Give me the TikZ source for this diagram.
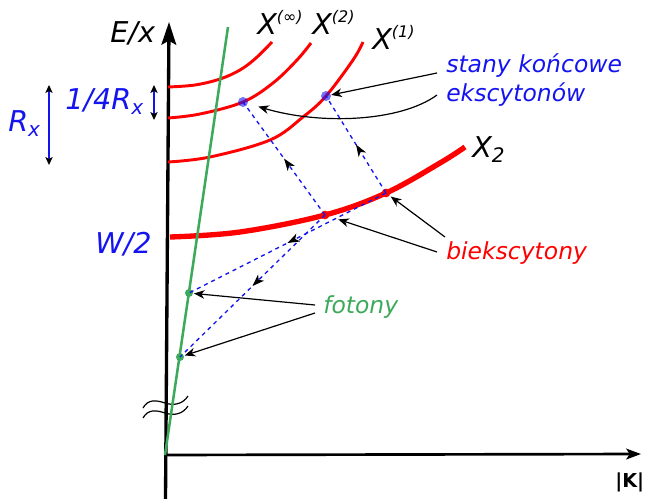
\documentclass[tikz,border=0pt]{standalone}
\usepackage{fontspec}
\setmainfont{DejaVu Sans}[ItalicFont={DejaVu Sans Oblique},BoldFont={DejaVu Sans Bold}]
\usetikzlibrary{arrows.meta,decorations.markings}
\definecolor{cred}{RGB}{255,0,0}
\definecolor{cblue}{RGB}{20,20,240}
\definecolor{cgreen}{RGB}{60,170,90}
\newcommand{\supx}[1]{\raisebox{9pt}{\fontsize{12}{12}\selectfont #1}}
\newcommand{\subx}[1]{\raisebox{-3.75pt}{\fontsize{15}{15}\selectfont #1}}
\begin{document}
\begin{tikzpicture}[x=0.75pt,y=-0.75pt,
  biglbl/.style={inner sep=0pt, anchor=base west, font=\fontsize{21.5}{24}\selectfont\itshape},
  midlbl/.style={inner sep=0pt, anchor=base west, font=\fontsize{17.6}{20}\selectfont\itshape},
  axisl/.style={black, line width=2.5pt},
  redthin/.style={cred, line width=2.2pt},
  redthick/.style={cred, line width=4pt},
  greenl/.style={cgreen, line width=1.9pt},
  dashl/.style={cblue, line width=1pt, dash pattern=on 3pt off 3pt,
    decoration={markings, mark=at position 0.5 with {\arrow{Stealth[black,length=9pt,width=6.5pt,inset=2.5pt]}}},
    postaction={decorate}},
  la/.style={black, line width=0.9pt, -{Stealth[length=8pt,width=6.5pt,inset=2.5pt]}},
  dbl/.style={cblue, line width=0.8pt, {Stealth[black,length=6pt,width=5.5pt,inset=1.5pt]}-{Stealth[black,length=6pt,width=5.5pt,inset=1.5pt]}},
  bdot/.style={circle, fill=cblue, fill opacity=0.6, inner sep=0pt, minimum size=7.5pt},
  rdot/.style={circle, fill=cred, inner sep=0pt, minimum size=6.5pt},
  gdot/.style={circle, fill=cgreen, inner sep=0pt, minimum size=6pt},
  brk/.style={black, line width=0.9pt}
]
\useasboundingbox (0,0) rectangle (649,499);

% axes
\coordinate (ybot) at (165.5,499);
\coordinate (ytop) at (169,22);
\coordinate (xo) at (165,455);
\coordinate (xend) at (641,454);
\coordinate (gtop) at (228,27);
\draw[axisl, -{Stealth[length=17pt,width=11pt,inset=3pt]}] (ybot) -- (ytop);
\draw[black, line width=2pt, -{Stealth[length=11pt,width=8pt,inset=2.5pt]}] (xo) -- (xend);

% axis break
\draw[brk] (143,408) .. controls (148,399) and (156,400) .. (165,403) .. controls (174,406) and (183,404) .. (188,396);
\draw[brk] (143,418) .. controls (148,409) and (156,410) .. (165,413) .. controls (174,416) and (183,414) .. (188,406);

% exciton curves
\draw[redthin] plot[smooth, tension=0.6] coordinates {(168,87) (195,85) (220,79) (240,70) (256,58) (272,42)};
\draw[redthin] plot[smooth, tension=0.6] coordinates {(168,118) (200,114) (243,102) (273,83) (297,60) (311,43)};
\draw[redthin] plot[smooth, tension=0.6] coordinates {(168,162) (210,157) (270,140) (303,117) (326,96) (353,60) (363,42)};
% biexciton curve
\draw[redthick] plot[smooth, tension=0.6] coordinates {(170,237) (240,232) (325,215) (386,193) (440,163) (465,147)};

% photon line
\draw[greenl] (xo) -- (gtop);

% dots
\node[bdot] (e2) at (243,102) {};
\node[bdot] (e1) at (326,96) {};
\node[rdot] (b1) at (325,215) {};
\node[rdot] (b2) at (386,193) {};
\node[gdot] (p1) at (189,293) {};
\node[gdot] (p2) at (180,357) {};

% transitions
\draw[dashl] (b1.center) -- (e2.center);
\draw[dashl] (b2.center) -- (e1.center);
\draw[dashl] (b2.center) -- (p1.center);
\draw[dashl] (b1.center) -- (p2.center);

% labels
\node[biglbl] (lE) at (110,43) {E/x};
\node[biglbl] (lXinf) at (257,35) {X\supx{(∞)}};
\node[biglbl] (lX2) at (312,35) {X\supx{(2)}};
\node[biglbl] (lX1) at (372,50) {X\supx{(1)}};
\node[biglbl] (lXbi) at (472,157) {X\subx{2}};
\node[biglbl, text=cblue] (lW) at (95,253) {W/2};
\node[biglbl, text=cblue] (lq) at (65,110) {1/4R\subx{x}};
\node[biglbl, text=cblue] (lR) at (8,132) {R\subx{x}};
\node[midlbl, text=cblue] (lst1) at (446,73) {stany końcowe};
\node[midlbl, text=cblue] (lst2) at (446,102) {ekscytonów};
\node[midlbl, text=cred] (lbi) at (446,259) {biekscytony};
\node[midlbl, text=cgreen] (lfo) at (323,313) {fotony};
\node[inner sep=0pt, anchor=base west, font=\fontsize{14.4}{16}\selectfont\bfseries] (lK) at (615,487) {|K|};

% double arrows
\coordinate (r1) at (49,85);
\coordinate (r2) at (49,165);
\coordinate (q1) at (154,85);
\coordinate (q2) at (154,120);
\draw[dbl] (r1) -- (r2);
\draw[dbl] (q1) -- (q2);

% label arrows
\coordinate (s1) at (437,73);
\coordinate (s2) at (437,95);
\coordinate (s3) at (445,237);
\coordinate (s4) at (437,252);
\coordinate (s5) at (315,305);
\coordinate (s6) at (315,313);
\draw[la] (s1) -- (e1);
\draw[la, shorten >=8pt] (s2) .. controls (400,122) and (320,125) .. (e2);
\draw[la, shorten >=1pt] (s3) -- (b2);
\draw[la, shorten >=7pt] (s4) -- (b1);
\draw[la, shorten >=0.5pt] (s5) -- (p1);
\draw[la, shorten >=0.5pt] (s6) -- (p2);
\end{tikzpicture}
\end{document}
